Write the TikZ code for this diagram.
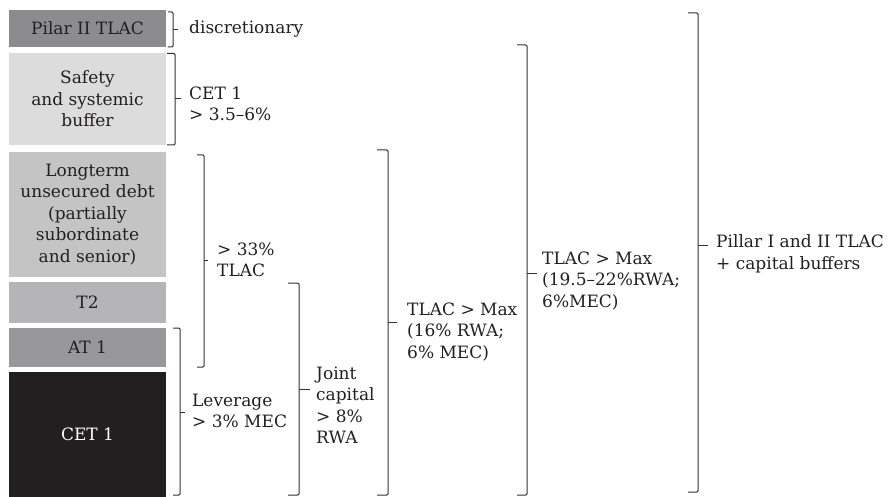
\documentclass[tikz,border=0pt]{standalone}
\usepackage{fontspec}
\setmainfont{DejaVu Serif}
\definecolor{txt}{HTML}{231F20}
\definecolor{brkc}{HTML}{333333}
\definecolor{cPilar}{HTML}{8C8C8E}
\definecolor{cSafety}{HTML}{DCDCDD}
\definecolor{cLong}{HTML}{C4C4C5}
\definecolor{cTtwo}{HTML}{B5B5B7}
\definecolor{cAT}{HTML}{98989B}
\definecolor{cCET}{HTML}{231F20}
\newcommand\bkt[6]{% xleft, xvert, top, bottom, mid, xtick
  \draw[brk] (#1,#3) -- (#2,#3) -- (#2,#4) -- (#1,#4);
  \draw[brk] (#2,#5) -- (#6,#5);}
\begin{document}
\begin{tikzpicture}[x=1pt,y=-1pt,
  every node/.style={font=\fontsize{17}{21.5}\selectfont, text=txt, inner sep=0pt},
  box/.style={fill=#1, minimum width=157pt, align=center, anchor=center},
  lbl/.style={anchor=west, align=left},
  brk/.style={draw=brkc, line width=1pt, rounded corners=1.2pt}]
\useasboundingbox (0,0) rectangle (891,497);
% boxes
\node[box=cPilar, minimum height=37pt] (pilar) at (87.5,28.5) {Pilar II TLAC};
\node[box=cSafety, minimum height=92pt] (safety) at (87.5,99) {Safety\\and systemic\\buffer};
\node[box=cLong, minimum height=125pt] (long) at (87.5,214.5) {Longterm\\unsecured debt\\(partially\\subordinate\\and senior)};
\node[box=cTtwo, minimum height=41pt] (t2) at (87.5,302.5) {T2};
\node[box=cAT, minimum height=39pt] (at1) at (87.5,347.5) {AT 1};
\node[box=cCET, minimum height=125pt, text=white] (cet) at (87.5,434.5) {CET 1};
% brackets
\bkt{168}{173}{12}{47}{29.5}{178}
\bkt{167}{175}{53.5}{145}{99}{181}
\bkt{197}{204}{155}{367}{260}{208}
\bkt{173}{180}{328}{495}{412}{185}
\bkt{288}{299}{283}{495}{389}{310}
\bkt{377}{388}{150}{495}{322}{397}
\bkt{517}{527}{45}{495}{273}{537}
\bkt{688}{698}{13}{492}{245}{708}
% labels
\node[lbl] (ldisc) at (189,29) {discretionary};
\node[lbl] (lcet) at (189,104) {CET 1\\> 3.5–6\%};
\node[lbl] (ltlac) at (217,260) {> 33\%\\TLAC};
\node[lbl] (llev) at (192,411) {Leverage\\> 3\% MEC};
\node[lbl] (ljoint) at (316,405) {Joint\\capital\\> 8\%\\RWA};
\node[lbl] (lsixteen) at (407,332) {TLAC > Max\\(16\% RWA;\\6\% MEC)};
\node[lbl] (lnineteen) at (542,281) {TLAC > Max\\(19.5–22\%RWA;\\6\%MEC)};
\node[lbl] (lpillar) at (716,254) {Pillar I and II TLAC\\+ capital buffers};
\end{tikzpicture}
\end{document}
